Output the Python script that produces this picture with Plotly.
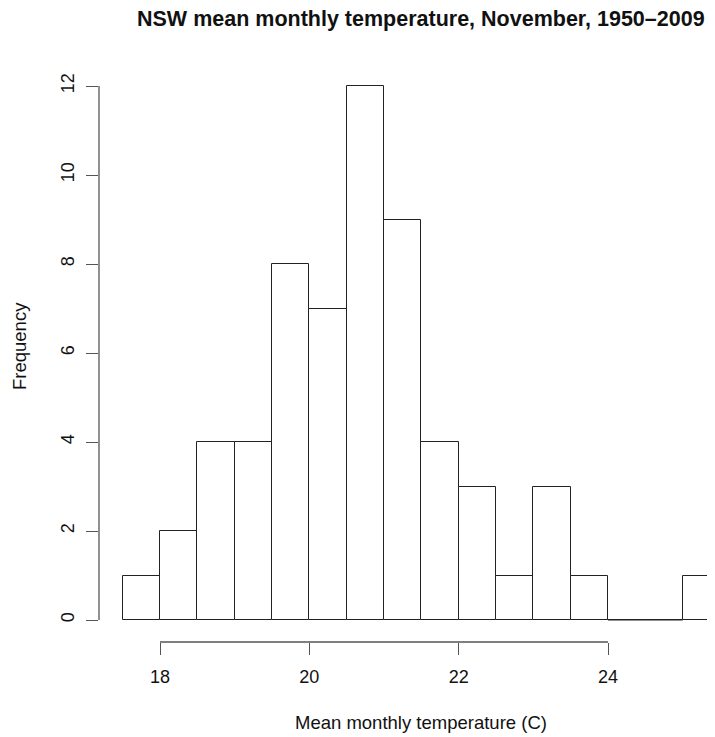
import plotly.graph_objects as go

# Histogram data: bin edges (width 0.5) and counts
bin_left = [17.5, 18.0, 18.5, 19.0, 19.5, 20.0, 20.5, 21.0, 21.5, 22.0, 22.5, 23.0, 23.5, 24.0, 24.5, 25.0]
bin_width = 0.5
counts = [1, 2, 4, 4, 8, 7, 12, 9, 4, 3, 1, 3, 1, 0, 0, 1]

x_ticks = [18, 20, 22, 24]
y_ticks = [0, 2, 4, 6, 8, 10, 12]

title_text = "NSW mean monthly temperature, November, 1950\u20132009"
x_title = "Mean monthly temperature (C)"
y_title = "Frequency"

FONT = "Liberation Sans, Arial, Helvetica, sans-serif"
BAR_COL = "#222222"
AXIS_COL = "#555555"

centers = [l + bin_width / 2 for l in bin_left]

fig = go.Figure()
fig.add_trace(go.Bar(
    x=centers, y=counts, width=[bin_width] * len(counts),
    marker=dict(color="white", line=dict(color=BAR_COL, width=1)),
    hoverinfo="x+y", showlegend=False,
))

# zero-count bins drawn as a flat line at 0 (as R does)
zx, zy = [], []
for l, c in zip(bin_left, counts):
    if c == 0:
        zx += [l, l + bin_width, None]
        zy += [0, 0, None]
fig.add_trace(go.Scatter(x=zx, y=zy, mode="lines", line=dict(color=BAR_COL, width=1),
                         hoverinfo="skip", showlegend=False))

# page body has an 8px margin: work in reference pixels, shift by OFF
OFF = 8
W, H = 715 - OFF, 737 - OFF
left_px, top_px, bottom_px = 99 - OFF, 60 - OFF, 642 - OFF
px_per_x = 74.67
px_per_y = 44.5
x0_px = 160 - OFF  # pixel of x=18
y0_px = 620 - OFF  # pixel of y=0

x_min = 18 - (x0_px - left_px) / px_per_x
x_max = 18 + (W - x0_px) / px_per_x
y_min = -(bottom_px - y0_px) / px_per_y
y_max = (y0_px - top_px) / px_per_y

def py(p):
    return (bottom_px - (p - OFF)) / (bottom_px - top_px)

def px(p):
    return ((p - OFF) - left_px) / (W - left_px)

fig.update_layout(
    width=W, height=H,
    margin=dict(l=left_px, r=0, t=top_px, b=H - bottom_px, pad=0),
    paper_bgcolor="white", plot_bgcolor="white",
    font=dict(family=FONT, size=18, color="#111111"),
    bargap=0,
    xaxis=dict(range=[x_min, x_max], tickvals=x_ticks, ticks="outside", ticklen=12,
               tickcolor=AXIS_COL, tickwidth=1.3, showgrid=False, zeroline=False, showline=False,
               tickfont=dict(size=18, family=FONT, color="#111111"), ticklabelstandoff=6),
    yaxis=dict(range=[y_min, y_max], tickvals=y_ticks, ticks="outside", ticklen=12,
               tickcolor=AXIS_COL, tickwidth=1.3, showgrid=False, zeroline=False, showline=False,
               tickangle=-90, tickfont=dict(size=18, family=FONT, color="#111111"),
               ticklabelstandoff=5),
    shapes=[
        dict(type="line", xref="x", yref="paper", x0=x_ticks[0], x1=x_ticks[-1], y0=0, y1=0,
             line=dict(color=AXIS_COL, width=1.3)),
        dict(type="line", xref="paper", yref="y", x0=0, x1=0, y0=y_ticks[0], y1=y_ticks[-1],
             line=dict(color=AXIS_COL, width=1.3)),
    ],
    annotations=[
        dict(text="<b>" + title_text + "</b>", xref="x", yref="paper", x=21.5,
             y=py(19), xanchor="center", yanchor="middle",
             showarrow=False, font=dict(size=21.5, family=FONT, color="#111111")),
        dict(text=x_title, xref="x", yref="paper", x=21.5,
             y=py(722), xanchor="center", yanchor="middle",
             showarrow=False, font=dict(size=18.5, family=FONT, color="#111111")),
        dict(text=y_title, xref="paper", yref="paper", x=px(19),
             y=py(346), xanchor="center", yanchor="middle",
             textangle=-90, showarrow=False, font=dict(size=18.5, family=FONT, color="#111111")),
    ],
)

fig.write_html("out.html")
